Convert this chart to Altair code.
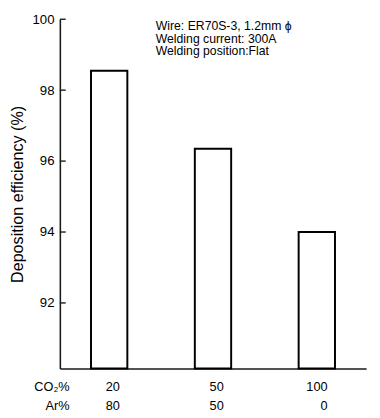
import altair as alt
import pandas as pd

co2 = ["20", "50", "100"]
ar = ["80", "50", "0"]
efficiency = [98.55, 96.35, 94.0]
tick_values = [92, 94, 96, 98, 100]
notes = ["Wire: ER70S-3, 1.2mm ϕ", "Welding current: 300A", "Welding position:Flat"]
row_labels = ["CO₂%", "Ar%"]
y_min, y_max = 90.15, 100

df = pd.DataFrame({"co2": co2, "ar": ar, "eff": efficiency})
ticks = pd.DataFrame({"v": tick_values})
one = pd.DataFrame({"k": [0]})

W, H = 313, 357
FONT = "Liberation Sans"

yscale = alt.Scale(domain=[y_min, y_max], nice=False, zero=False)
xscale = alt.Scale(paddingInner=0.65, paddingOuter=0.3)
xaxis = alt.Axis(labels=False, ticks=False, title=None, domain=True,
                 domainColor="#1a1a1a", domainWidth=1.6, grid=False)
yaxis = alt.Axis(values=tick_values, tickSize=0, labelPadding=6,
                 labelFontSize=13.5, labelFont=FONT, labelColor="black",
                 domainColor="#1a1a1a", domainWidth=1.6, grid=False,
                 title="Deposition efficiency (%)", titleFont=FONT,
                 titleFontSize=16.5, titleFontWeight="normal",
                 titleColor="black", titleAngle=-90,
                 titleX=-43, titleY=H / 2, titleAlign="center",
                 titleBaseline="middle")
xenc = alt.X("co2:N", sort=co2, scale=xscale, axis=xaxis)

bars = alt.Chart(df).mark_bar(fill="white", stroke="black", strokeWidth=2).encode(
    x=xenc,
    y=alt.Y("eff:Q", scale=yscale, axis=yaxis),
    y2=alt.Y2(datum=y_min),
)

tick_rules = alt.Chart(ticks).mark_rule(color="#1a1a1a", strokeWidth=1.4).encode(
    y=alt.Y("v:Q", scale=yscale, axis=yaxis),
    x=alt.value(0), x2=alt.value(6),
)

co2_text = alt.Chart(df).mark_text(align="right", baseline="middle", dx=11,
                                   fontSize=13, font=FONT, color="black").encode(
    x=xenc, y=alt.value(H + 19), text="co2:N")
ar_text = alt.Chart(df).mark_text(align="right", baseline="middle", dx=11,
                                  fontSize=13, font=FONT, color="black").encode(
    x=xenc, y=alt.value(H + 38), text="ar:N")

row1 = alt.Chart(one).mark_text(align="right", baseline="middle", fontSize=13,
                                font=FONT, color="black").encode(
    x=alt.value(10), y=alt.value(H + 19), text=alt.value(row_labels[0]))
row2 = alt.Chart(one).mark_text(align="right", baseline="middle", fontSize=13,
                                font=FONT, color="black").encode(
    x=alt.value(10), y=alt.value(H + 38), text=alt.value(row_labels[1]))

note = alt.Chart(one).mark_text(align="left", baseline="alphabetic", fontSize=12.5,
                                font=FONT, color="black", lineHeight=13).encode(
    x=alt.value(98), y=alt.value(11), text=alt.value(notes))

chart = alt.layer(bars, tick_rules, co2_text, ar_text, row1, row2, note).properties(
    width=W, height=H,
    autosize=alt.AutoSizeParams(type="none"),
    padding={"left": 53, "top": 7, "right": 6, "bottom": 44},
    background="white",
).configure_view(stroke=None)

chart.save("out.html", embed_options={"renderer": "svg", "actions": False})
